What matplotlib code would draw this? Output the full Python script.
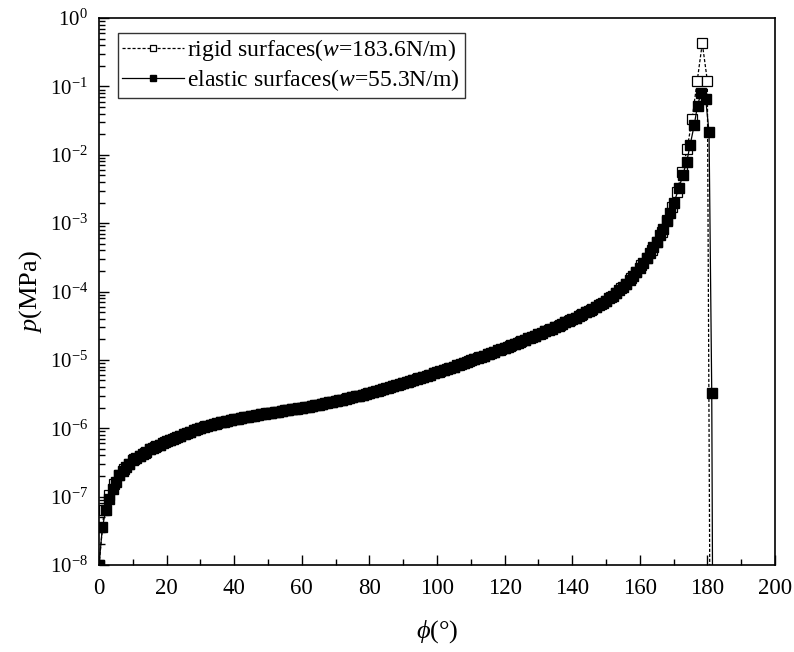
import numpy as np
import matplotlib
matplotlib.use("Agg")
import matplotlib.pyplot as plt
from matplotlib.ticker import MultipleLocator, LogLocator, NullFormatter

plt.rcParams['font.family'] = ['Liberation Serif', 'DejaVu Serif']
plt.rcParams['mathtext.fontset'] = 'custom'
plt.rcParams['mathtext.rm'] = 'Liberation Serif'
plt.rcParams['mathtext.it'] = 'Liberation Serif:italic'
plt.rcParams['axes.unicode_minus'] = False

# elastic surfaces: phi = 0..170 (1 deg) + tail, log10(p / MPa)
phi_elastic_body = list(range(0, 171))
logp_elastic_body = [
    -8.00, -7.45, -7.20, -7.03, -6.89, -6.78, -6.69, -6.62, -6.57, -6.52,
    -6.47, -6.43, -6.40, -6.37, -6.34, -6.31, -6.29, -6.26, -6.24, -6.21,
    -6.19, -6.17, -6.15, -6.13, -6.11, -6.09, -6.07, -6.05, -6.03, -6.01,
    -5.990, -5.977, -5.964, -5.951, -5.939, -5.927, -5.915, -5.904, -5.893, -5.882,
    -5.871, -5.861, -5.851, -5.842, -5.833, -5.824, -5.815, -5.806, -5.797, -5.788,
    -5.780, -5.772, -5.764, -5.756, -5.748, -5.740, -5.732, -5.724, -5.716, -5.708,
    -5.700, -5.691, -5.682, -5.672, -5.663, -5.653, -5.643, -5.633, -5.623, -5.613,
    -5.602, -5.591, -5.580, -5.569, -5.558, -5.546, -5.534, -5.522, -5.510, -5.497,
    -5.484, -5.471, -5.458, -5.444, -5.430, -5.416, -5.401, -5.386, -5.371, -5.356,
    -5.341, -5.326, -5.311, -5.295, -5.279, -5.263, -5.247, -5.231, -5.215, -5.199,
    -5.182, -5.165, -5.148, -5.131, -5.114, -5.097, -5.080, -5.062, -5.044, -5.026,
    -5.008, -4.990, -4.972, -4.954, -4.936, -4.918, -4.900, -4.881, -4.862, -4.843,
    -4.824, -4.805, -4.786, -4.767, -4.747, -4.727, -4.707, -4.687, -4.667, -4.647,
    -4.626, -4.605, -4.584, -4.563, -4.542, -4.520, -4.498, -4.476, -4.453, -4.430,
    -4.406, -4.382, -4.357, -4.332, -4.306, -4.280, -4.253, -4.225, -4.196, -4.165,
    -4.132, -4.097, -4.060, -4.020, -3.977, -3.932, -3.884, -3.833, -3.775, -3.714,
    -3.650, -3.582, -3.510, -3.434, -3.354, -3.270, -3.18, -3.08, -2.97, -2.85,
    -2.71,
]
phi_elastic_tail = [171.6, 172.7, 173.9, 174.9, 176.1, 177.1, 178.1, 179.5, 180.5, 181.3, 181.6]
logp_elastic_tail = [-2.49, -2.30, -2.10, -1.86, -1.57, -1.28, -1.10, -1.18, -1.67, -5.48, -9.0]

# rigid surfaces: phi = 0..171 (1.5 deg) + tail
phi_rigid_body = [i * 1.5 for i in range(0, 115)]
logp_rigid_body = [
    -8.00, -7.20, -6.98, -6.82, -6.69, -6.595, -6.52, -6.45, -6.40, -6.355,
    -6.31, -6.275, -6.24, -6.20, -6.17, -6.14, -6.11, -6.08, -6.05, -6.02,
    -5.990, -5.970, -5.951, -5.933, -5.915, -5.898, -5.882, -5.866, -5.851, -5.837,
    -5.824, -5.810, -5.797, -5.784, -5.772, -5.760, -5.748, -5.736, -5.724, -5.712,
    -5.700, -5.686, -5.672, -5.658, -5.643, -5.628, -5.613, -5.596, -5.580, -5.563,
    -5.546, -5.528, -5.510, -5.490, -5.471, -5.451, -5.430, -5.408, -5.386, -5.363,
    -5.341, -5.318, -5.295, -5.271, -5.247, -5.223, -5.199, -5.173, -5.148, -5.122,
    -5.097, -5.071, -5.044, -5.017, -4.990, -4.963, -4.936, -4.909, -4.881, -4.852,
    -4.824, -4.795, -4.767, -4.737, -4.707, -4.677, -4.647, -4.615, -4.584, -4.552,
    -4.520, -4.487, -4.453, -4.418, -4.382, -4.344, -4.306, -4.266, -4.225, -4.180,
    -4.132, -4.078, -4.020, -3.954, -3.884, -3.805, -3.714, -3.616, -3.510, -3.394,
    -3.270, -3.13, -2.96, -2.77, -2.55,
]
phi_rigid_tail = [172.5, 174.0, 175.5, 177.0, 178.5, 180.0, 180.8]
logp_rigid_tail = [-2.25, -1.92, -1.47, -0.92, -0.37, -0.92, -9.0]

phi_e = np.array(phi_elastic_body + phi_elastic_tail)
p_e = 10.0 ** np.array(logp_elastic_body + logp_elastic_tail)
phi_r = np.array(phi_rigid_body + phi_rigid_tail)
p_r = 10.0 ** np.array(logp_rigid_body + logp_rigid_tail)

fig = plt.figure(figsize=(7.94, 6.52), dpi=100)
ax = fig.add_axes([0.1247, 0.1334, 0.8513, 0.839])

ax.plot(phi_r, p_r, color='black', lw=0.9, ls=(0, (2.5, 1.5)),
        marker='s', ms=6.5, mfc='white', mec='black', mew=0.9,
        label=r'rigid surfaces($w$=183.6N/m)')
ax.plot(phi_e, p_e, color='black', lw=0.9, ls='-',
        marker='s', ms=7, mfc='black', mec='black',
        label=r'elastic surfaces($w$=55.3N/m)')

ax.set_yscale('log')
ax.set_xlim(0, 200)
ax.set_ylim(1e-8, 1e0)
ax.xaxis.set_major_locator(MultipleLocator(20))
ax.xaxis.set_minor_locator(MultipleLocator(10))
ax.yaxis.set_major_locator(LogLocator(base=10, numticks=20))
ax.yaxis.set_minor_locator(LogLocator(base=10, subs=np.arange(2, 10), numticks=20))
ax.yaxis.set_minor_formatter(NullFormatter())

ax.tick_params(which='both', direction='in', top=False, right=False)
ax.tick_params(axis='x', which='major', labelsize=16.5, pad=9)
ax.tick_params(axis='y', which='major', labelsize=15, pad=8)
ax.tick_params(which='major', length=7, width=1)
ax.tick_params(which='minor', length=4, width=1)
for s in ax.spines.values():
    s.set_linewidth(1.2)

ax.set_xlabel(r'$\phi$(°)', fontsize=19, labelpad=14)
ax.set_ylabel(r'$p$(MPa)', fontsize=19, labelpad=4)

leg = ax.legend(loc='upper left', bbox_to_anchor=(0.0277, 0.9731), borderaxespad=0,
                fontsize=17, frameon=True, fancybox=False, edgecolor='black',
                handlelength=2.6, markerscale=0.6, handletextpad=0.15,
                borderpad=0.2, labelspacing=0.15)
leg.get_frame().set_linewidth(1.0)

fig.savefig('out.png', dpi=100)
